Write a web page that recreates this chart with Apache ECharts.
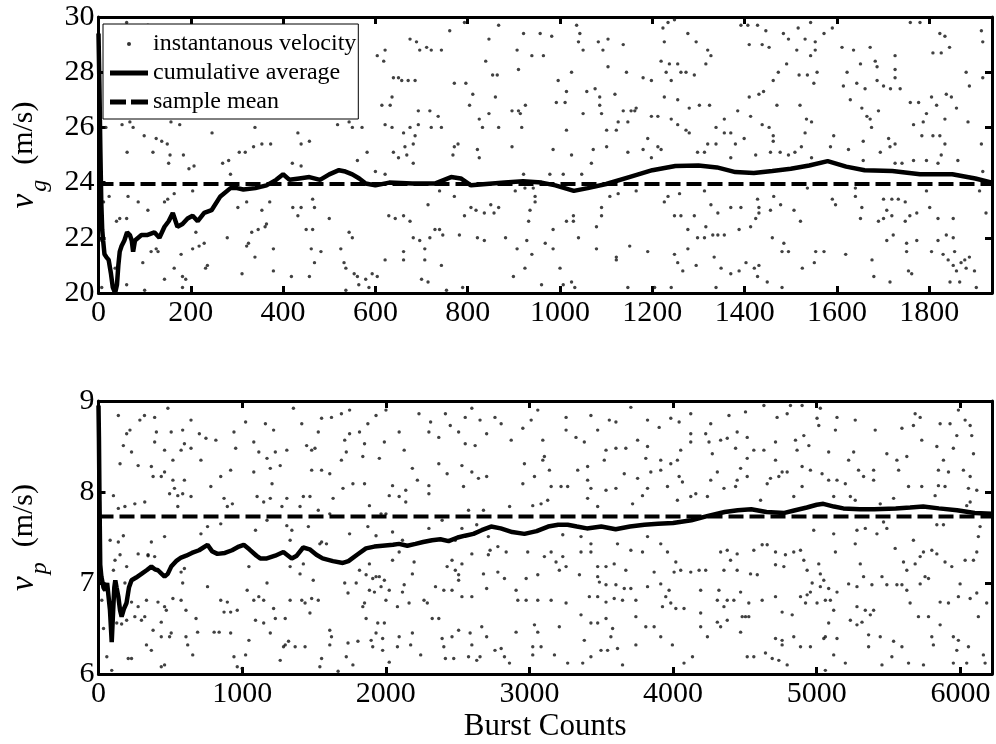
<!DOCTYPE html>
<html><head><meta charset="utf-8">
<script src="https://cdn.jsdelivr.net/npm/echarts@6/dist/echarts.min.js"></script>
<style>html,body{margin:0;padding:0;background:#fff}#c{width:996px;height:744px}</style>
</head><body><div id="c"></div><script>
// ---------- data ----------
const topXMax = 1936, topYMin = 20, topYMax = 30;
const bottomXMax = 6220, bottomYMin = 6, bottomYMax = 9;
const topMean = 23.95;
const bottomMean = 7.73;
const seriesNames = ['instantanous velocity', 'cumulative average', 'sample mean'];

const topCumulative = [[0,29.4],[2,27.5],[4,25.2],[6,23.3],[8,22.3],[10,21.9],[13,21.4],[17,21.3],[22,21.2],[27,20.7],[31,20.2],[36,20.0],[40,20.3],[43,21.0],[46,21.5],[50,21.7],[56,21.9],[62,22.2],[68,22.1],[72,21.9],[75,21.5],[79,21.9],[86,22.0],[93,22.1],[105,22.1],[121,22.2],[132,22.0],[143,22.4],[152,22.6],[161,22.9],[171,22.4],[182,22.5],[193,22.7],[204,22.8],[215,22.6],[229,22.9],[245,23.0],[264,23.5],[286,23.8],[300,23.8],[314,23.75],[340,23.8],[364,23.9],[385,24.1],[400,24.3],[414,24.1],[435,24.15],[457,24.2],[480,24.1],[500,24.3],[521,24.45],[535,24.4],[550,24.3],[565,24.15],[579,23.97],[600,23.9],[630,24.0],[680,23.97],[730,23.97],[764,24.2],[785,24.15],[807,23.9],[840,23.95],[880,24.0],[920,24.05],[960,24.0],[990,23.9],[1010,23.8],[1030,23.7],[1060,23.8],[1100,23.95],[1150,24.2],[1200,24.45],[1250,24.6],[1300,24.62],[1340,24.55],[1380,24.38],[1420,24.35],[1460,24.42],[1500,24.5],[1540,24.62],[1580,24.78],[1620,24.58],[1660,24.45],[1720,24.42],[1780,24.3],[1850,24.3],[1900,24.15],[1936,24.0]];

const bottomCumulative = [[0,8.95],[3,8.6],[7,7.9],[12,7.2],[20,7.07],[35,6.95],[46,6.92],[60,7.0],[69,7.0],[80,6.7],[92,6.35],[102,6.7],[110,6.95],[117,7.03],[126,6.95],[138,6.85],[150,6.7],[161,6.63],[178,6.72],[195,6.78],[212,6.95],[230,7.03],[262,7.06],[299,7.1],[335,7.14],[368,7.18],[392,7.15],[414,7.14],[440,7.1],[460,7.07],[482,7.1],[506,7.18],[540,7.24],[575,7.28],[610,7.3],[650,7.33],[700,7.36],[759,7.42],[790,7.35],[828,7.32],[880,7.33],[930,7.36],[977,7.4],[1011,7.42],[1050,7.37],[1100,7.3],[1126,7.27],[1172,7.27],[1230,7.3],[1287,7.34],[1345,7.27],[1380,7.3],[1425,7.39],[1470,7.37],[1517,7.31],[1560,7.27],[1632,7.24],[1701,7.22],[1740,7.24],[1800,7.31],[1862,7.38],[1920,7.4],[1977,7.41],[2050,7.42],[2092,7.43],[2150,7.41],[2207,7.43],[2260,7.45],[2322,7.47],[2380,7.48],[2437,7.46],[2500,7.5],[2552,7.52],[2610,7.54],[2667,7.58],[2733,7.62],[2800,7.6],[2880,7.56],[2965,7.54],[3050,7.57],[3130,7.62],[3200,7.64],[3266,7.64],[3330,7.62],[3400,7.6],[3500,7.62],[3600,7.59],[3700,7.62],[3800,7.64],[3895,7.65],[4000,7.66],[4127,7.69],[4250,7.74],[4359,7.78],[4450,7.8],[4544,7.81],[4650,7.78],[4775,7.77],[4850,7.8],[4931,7.83],[5000,7.86],[5046,7.87],[5120,7.84],[5185,7.82],[5300,7.81],[5400,7.81],[5550,7.82],[5650,7.83],[5741,7.84],[5850,7.82],[5977,7.8],[6100,7.77],[6220,7.76]];

const topVelocity = [[61,29.8],[107,29.7],[75,26.0],[51,26.1],[68,26.2],[16,26.0],[99,25.7],[125,25.6],[137,25.5],[149,25.4],[118,25.1],[62,25.1],[155,25.0],[184,25.0],[152,24.7],[196,24.5],[207,24.6],[246,25.8],[157,26.2],[176,26.1],[339,26.0],[432,25.8],[439,25.4],[457,25.5],[336,25.3],[305,25.1],[318,25.1],[354,25.4],[373,25.4],[269,24.7],[282,24.8],[286,24.3],[420,24.7],[439,24.6],[518,26.1],[543,26.2],[550,26.0],[571,26.0],[561,24.8],[582,25.1],[600,24.4],[621,24.3],[604,28.6],[621,28.8],[618,28.4],[639,27.8],[650,27.8],[657,27.7],[671,27.7],[686,27.7],[636,27.1],[632,26.8],[614,26.8],[621,26.1],[636,26.0],[661,25.8],[675,26.0],[686,25.7],[682,25.4],[664,25.3],[639,25.1],[668,25.0],[650,24.9],[682,24.7],[693,26.6],[693,26.1],[718,26.6],[721,26.0],[736,26.4],[743,26.0],[771,25.3],[779,25.4],[768,25.0],[675,29.2],[689,29.1],[696,28.8],[711,28.9],[721,28.8],[743,28.8],[761,29.5],[793,29.8],[846,29.2],[839,28.4],[854,27.9],[811,27.2],[796,27.6],[771,27.6],[804,26.8],[825,26.3],[832,26.0],[846,26.5],[821,25.2],[825,24.9],
[11,23.3],[23,23.5],[39,22.6],[46,22.7],[61,22.7],[107,23.0],[64,23.5],[86,23.3],[143,23.3],[150,23.4],[164,23.6],[204,23.7],[7,21.9],[114,21.5],[129,21.5],[96,21.1],[125,21.6],[218,21.7],[229,21.8],[236,21.0],[211,22.2],[204,21.6],[179,21.4],[143,20.5],[164,20.9],[182,20.6],[189,20.5],[182,20.2],[61,20.3],[100,20.1],[36,20.9],[7,20.2],[232,20.9],[279,22.0],[302,23.1],[321,23.3],[354,23.0],[371,23.3],[364,22.5],[361,22.4],[346,22.3],[332,22.2],[321,21.7],[325,21.8],[339,21.3],[311,20.7],[379,21.6],[379,20.8],[421,23.1],[439,23.1],[464,23.4],[468,23.1],[432,22.8],[450,22.3],[464,22.3],[461,21.6],[468,21.1],[482,21.5],[457,20.6],[418,20.6],[500,22.7],[525,21.6],[532,21.1],[536,20.9],[543,22.2],[550,22.0],[554,20.7],[561,20.6],[564,20.3],[579,20.5],[586,20.2],[593,20.7],[604,20.6],[536,20.1],[621,21.2],[629,22.8],[643,22.7],[661,22.8],[661,21.5],[661,21.2],[675,22.6],[682,22.0],[696,21.9],[700,20.5],[714,20.4],[707,21.6],[707,21.2],[714,23.2],[729,22.3],[718,22.0],[739,22.3],[746,22.1],[743,21.0],[782,22.1],[793,22.8],[807,23.1],[818,23.0],[836,22.9],[850,23.2],[821,22.0],[836,21.9],[739,23.7],[771,23.5],[754,20.1],[789,20.2],
[867,29.7],[921,29.4],[957,29.4],[982,29.3],[1036,29.7],[1043,29.4],[907,28.8],[939,28.6],[964,28.6],[910,28.1],[1040,29.1],[1050,28.8],[1083,29.1],[1093,28.8],[1104,29.2],[1137,29.0],[1104,28.2],[1144,28.0],[1180,27.8],[1198,27.7],[1223,29.6],[1234,29.8],[1248,29.9],[1226,29.1],[1219,28.4],[1237,28.3],[1255,28.3],[1230,28.0],[1241,27.7],[1262,28.0],[1273,28.0],[1291,27.9],[1277,29.4],[1295,29.1],[1320,28.8],[1327,28.6],[1316,28.3],[1392,29.7],[1407,29.7],[1428,29.7],[1446,29.5],[1410,29.0],[1438,29.0],[1453,28.9],[1484,29.4],[1495,29.2],[1516,29.6],[1531,29.2],[1543,29.8],[1553,29.1],[1572,29.4],[1590,29.6],[1513,28.8],[1543,28.6],[1553,28.8],[1491,28.3],[1473,28.0],[1462,27.7],[1518,27.9],[1536,27.9],[1557,28.0],[1550,27.6],[1611,28.9],[1636,28.8],[1672,28.9],[1651,28.3],[1683,28.4],[1687,28.2],[1726,28.6],[1726,28.1],[1622,28.0],[1614,27.5],[1643,27.6],[1661,27.4],[1687,27.7],[1701,27.5],[1716,27.4],[1737,27.4],[1726,27.8],[1759,29.8],[1780,29.8],[1823,29.4],[1834,29.3],[1808,28.7],[1826,28.7],[1844,28.9],[1880,28.0],[1887,27.5],[1913,29.5],[1916,29.1],[1916,27.8],[1759,26.9],[1777,26.9],[1794,26.5],[1805,27.1],[1816,26.8],[1837,27.2],[1848,27.1],[1859,26.7],[1834,26.3],[1884,26.2],[1766,26.1],[1787,26.2],[1784,25.7],[1808,25.7],[1823,25.7],[1834,25.4],[1826,25.0],[1794,24.8],[1819,24.7],[1862,24.8],[1766,24.8],[1913,25.4],[1916,24.4],[1654,26.7],[1665,26.4],[1690,26.6],[1672,26.3],[1675,26.0],[1629,27.0],[1657,25.5],[1694,25.1],[1712,25.6],[1715,25.3],[1726,25.4],[1741,24.7],[1726,24.7],[1657,24.8],[1625,25.2],[1593,25.7],[1586,25.3],[1520,26.8],[1534,26.3],[1545,26.2],[1531,25.8],[1470,26.8],[1453,26.0],[1462,25.7],[1462,25.5],[1438,26.1],[1413,26.4],[1410,27.1],[1431,27.2],[1441,27.3],[1399,25.6],[1424,25.0],[1456,25.1],[1477,25.1],[1495,25.0],[1509,25.1],[1523,25.3],[1545,24.9],[1385,26.6],[1356,26.3],[1356,25.8],[1370,25.8],[1380,25.4],[1338,26.0],[1338,25.4],[1320,25.4],[1298,25.1],[1313,25.1],[1370,24.9],[1324,26.8],[1302,26.8],[1280,26.7],[1273,25.9],[1280,25.8],[1255,26.1],[1241,26.3],[1212,26.4],[1198,26.4],[1226,27.1],[1255,27.0],[1190,25.6],[1180,25.2],[1212,25.3],[1219,25.2],[1198,24.9],[1147,25.1],[1147,26.2],[1137,26.6],[1126,26.2],[1122,25.9],[1154,26.6],[1162,26.6],[1165,26.7],[1119,27.2],[1101,25.9],[1101,25.3],[1086,27.1],[1086,26.8],[1090,26.5],[1058,27.3],[1076,27.4],[1050,26.5],[1072,25.2],[1068,24.7],[1047,24.3],[1025,25.0],[1014,25.9],[1011,26.9],[1014,27.3],[1025,28.0],[996,27.7],[992,26.9],[985,25.2],[1007,24.3],[978,24.3],[917,26.0],[910,26.6],[896,26.6],[925,26.8],[914,26.5],[896,25.3],[867,26.0],[860,27.1],[864,27.9],[921,24.3],
[903,23.7],[924,23.8],[942,23.8],[946,23.5],[946,23.3],[935,23.0],[932,22.6],[867,23.1],[857,22.9],[882,22.0],[907,21.6],[928,21.9],[939,21.4],[924,20.9],[899,20.6],[960,20.3],[968,21.8],[985,21.6],[985,22.3],[1014,22.6],[1029,22.8],[1029,22.6],[1040,22.0],[1025,20.4],[1000,20.9],[1007,20.3],[1032,20.2],[1079,21.6],[1079,22.4],[1090,22.8],[1090,23.1],[1108,23.5],[1126,23.6],[1122,21.3],[1122,21.2],[1151,21.7],[1147,20.2],[1165,23.7],[1190,21.5],[1205,20.2],[1226,23.3],[1234,23.5],[1241,20.2],[1248,22.8],[1248,21.4],[1259,23.6],[1262,22.8],[1277,22.3],[1277,21.6],[1266,20.8],[1255,21.1],[1291,22.8],[1298,22.0],[1295,21.0],[1313,23.7],[1316,22.4],[1313,22.0],[1327,23.2],[1331,22.1],[1342,22.9],[1342,22.1],[1356,22.1],[1334,21.3],[1349,20.9],[1338,20.2],[1370,20.7],[1388,20.8],[1370,23.1],[1392,23.1],[1388,22.3],[1413,22.4],[1424,22.7],[1431,22.9],[1431,23.1],[1428,23.4],[1456,23.0],[1463,23.5],[1478,23.2],[1403,21.1],[1421,20.9],[1431,21.0],[1428,20.6],[1449,20.4],[1481,20.2],[1460,22.0],[1485,21.8],[1495,21.5],[1481,21.5],[1507,23.0],[1521,22.6],[1525,20.9],[1536,23.8],[1554,21.5],[1572,21.5],[1551,21.1],[1590,23.4],[1597,23.2],[1619,21.4],[1640,23.8],[1640,23.5],[1651,22.7],[1654,23.1],[1676,21.2],[1680,20.6],[1690,22.6],[1701,22.7],[1708,23.0],[1719,22.8],[1701,23.4],[1719,23.4],[1733,23.4],[1748,23.3],[1708,21.9],[1715,20.4],[1722,22.1],[1748,22.6],[1758,22.8],[1773,22.9],[1801,23.1],[1794,23.7],[1751,21.8],[1751,21.5],[1773,21.9],[1755,20.8],[1762,20.7],[1805,21.5],[1819,22.7],[1819,21.9],[1830,21.4],[1837,22.1],[1852,22.0],[1841,21.2],[1855,21.5],[1852,21.0],[1859,20.8],[1869,21.1],[1877,21.2],[1887,21.3],[1880,20.9],[1898,20.8],[1845,20.4],[1866,20.4],[1902,20.2],[1852,22.7],[1909,23.7],[1923,22.9]];

const bottomVelocity = [[138,8.84],[219,8.68],[196,8.64],[173,8.51],[230,8.44],[288,8.79],[320,8.84],[391,8.82],[403,8.66],[391,8.55],[483,8.92],[506,8.66],[586,8.68],[598,8.53],[644,8.79],[644,8.48],[702,8.64],[748,8.59],[817,8.57],[460,8.46],[518,8.35],[575,8.46],[150,8.31],[276,8.29],[368,8.28],[460,8.22],[518,8.13],[437,8.17],[380,8.17],[598,8.13],[713,8.35],[851,8.17],[920,8.24],[782,8.06],[529,8.04],[495,7.98],[552,7.96],[586,7.98],[644,7.95],[552,7.84],[322,7.89],[253,7.87],[104,7.96],[138,7.82],[184,7.84],[874,7.93],[897,7.84],[932,7.87],[851,7.65],[460,7.51],[368,7.45],[173,7.52],[138,7.45],[81,7.47],[276,7.32],[345,7.3],[713,7.54],[759,7.62],
[943,8.66],[955,8.48],[1024,8.77],[1081,8.55],[1116,8.44],[1162,8.75],[1173,8.37],[1196,8.26],[1219,8.68],[1231,8.44],[1311,8.46],[1357,8.92],[1415,8.75],[1449,8.51],[1484,8.46],[1507,8.48],[1530,8.66],[1553,8.81],[1622,8.82],[1691,8.86],[1748,8.9],[1714,8.57],[1748,8.64],[1817,8.66],[1852,8.53],[1875,8.75],[1932,8.84],[2001,8.9],[1990,8.55],[1955,8.37],[2093,8.66],[2128,8.46],[2185,8.26],[2220,8.13],[2231,8.86],[2312,8.77],[2300,8.66],[2369,8.6],[2415,8.86],[2449,8.73],[2507,8.66],[2553,8.82],[2599,8.92],[2656,8.79],[2702,8.64],[2760,8.82],[2553,8.53],[2622,8.51],[2530,8.29],[2599,8.22],[2645,8.15],[2702,8.17],[2541,8.06],[2427,8.2],[2369,8.31],[2300,8.07],[2300,7.98],[2139,8.02],[2047,8.07],[2024,7.96],[2093,7.95],[2139,7.89],[2001,7.76],[1967,7.76],[1932,7.52],[1886,7.85],[1852,8.09],[1771,8.09],[1702,8.04],[1633,7.93],[1610,7.76],[1530,7.8],[1472,7.95],[1426,7.95],[1403,7.84],[1311,7.93],[1277,7.84],[1196,7.93],[1208,8.09],[1150,7.89],[1553,8.24],[1484,8.24],[1610,8.2],[1691,8.35],[1725,8.44],[1840,8.39],[1265,8.29],[1081,8.22],[1104,7.95],[1173,7.69],[1093,7.58],[1311,7.63],[1346,7.58],[1334,7.47],[1461,7.62],[1541,7.43],[1587,7.43],[1748,7.54],[1875,7.62],[2047,7.56],[2116,7.47],[2300,7.6],[2392,7.69],[2484,7.47],[2530,7.6],[2576,7.8],[2633,7.64],[2714,7.51],[2726,7.36],[2599,7.32],[2680,7.8],
[23,6.81],[35,6.5],[58,6.19],[92,6.04],[104,7.14],[115,7.25],[150,7.31],[196,7.18],[184,7.0],[127,6.56],[161,6.55],[196,6.59],[207,6.17],[230,6.17],[230,6.79],[276,6.74],[253,6.63],[322,6.63],[299,6.59],[334,6.81],[345,7.31],[391,7.29],[334,6.32],[368,6.26],[437,6.08],[460,6.1],[437,6.57],[414,6.79],[380,6.48],[437,6.41],[460,6.74],[472,6.7],[506,6.45],[495,6.41],[518,6.83],[575,6.81],[609,6.7],[609,6.41],[656,6.21],[679,6.61],[586,7.0],[575,7.12],[598,7.16],[690,6.46],[621,6.32],[759,6.96],[805,6.46],[840,6.46],[851,6.81],[897,6.79],[874,6.68],[920,6.68],[966,6.7],[920,6.45],[943,6.19],[966,6.08],[1000,6.06],[1024,6.21],[1047,6.37],[1035,6.92],[1093,6.59],[1081,6.81],[1150,6.81],[1116,6.85],[1173,7.0],[1047,7.18],[1150,6.56],[1196,6.45],[1219,6.72],[1231,6.61],[1300,6.61],[1300,6.32],[1323,6.36],[1288,6.3],[1265,6.15],[1369,6.3],[1438,6.3],[1334,6.81],[1415,6.81],[1438,6.78],[1484,6.83],[1530,6.81],[1472,6.67],[1495,7.03],[1403,7.1],[1426,7.21],[1334,7.18],[1553,7.45],[1610,6.48],[1622,6.41],[1610,6.32],[1553,6.17],[1541,6.08],[1668,6.03],[1725,6.19],[1771,6.1],[1737,6.34],[1806,6.36],[1714,7.0],[1737,6.89],[1794,7.0],[1852,6.78],[1840,6.74],[1863,6.61],[1817,7.14],[1863,7.09],[1886,7.21],[1909,7.05],[1932,7.07],[1955,7.07],[1886,6.92],[1921,6.9],[1967,6.96],[1990,7.03],[2024,6.92],[2001,6.81],[1944,6.56],[1932,6.45],[1898,6.37],[1909,6.3],[1990,6.56],[1978,6.39],[1978,6.26],[2024,6.13],[2081,6.3],[2093,6.41],[2081,6.74],[2128,6.98],[2116,6.9],[2162,6.78],[2185,7.1],[2197,7.23],[2047,7.25],[2093,7.34],[2173,6.32],[2185,6.45],[2243,6.21],[2266,6.81],[2289,6.78],[2323,6.61],[2369,6.61],[2346,6.96],[2404,6.92],[2461,6.92],[2507,7.03],[2427,7.18],[2461,7.25],[2484,7.14],[2530,7.21],[2507,7.09],[2392,6.39],[2404,6.3],[2415,6.17],[2461,6.41],[2473,6.17],[2507,6.48],[2530,6.85],[2599,6.85],[2587,6.45],[2599,6.32],[2576,6.19],[2656,6.19],[2633,6.15],[2668,6.52],[2702,6.41],[2702,6.94],[2714,7.31],[2760,6.26],[2680,7.1],
[2803,8.75],[2873,8.57],[2954,8.7],[3012,8.79],[3058,8.9],[3093,8.57],[3104,8.39],[3139,8.24],[2965,8.31],[2954,8.09],[3035,8.17],[3093,8.35],[3255,8.82],[3255,8.68],[3324,8.6],[3382,8.55],[3336,8.24],[3405,8.28],[3428,8.84],[3475,8.68],[3556,8.79],[3602,8.77],[3533,8.46],[3602,8.48],[3671,8.48],[3660,8.2],[3521,8.35],[3405,8.13],[3428,8.04],[3266,8.06],[3220,8.06],[3151,8.06],[3081,7.87],[3127,7.91],[3023,7.85],[2862,7.84],[3405,7.93],[3475,7.84],[3533,8.02],[3602,8.04],[3718,7.87],[3787,7.96],[3822,8.04],[3753,8.15],[3845,8.22],[3914,8.24],[3810,8.37],[3914,8.35],[3984,8.31],[4030,8.35],[3903,8.71],[3984,8.81],[4042,8.77],[4123,8.86],[3706,8.93],[3822,8.79],[3753,8.57],[3822,8.5],[4053,8.46],[4123,8.55],[4123,8.64],[3961,8.06],[4042,8.17],[4065,8.11],[4123,7.95],[4158,7.98],[4030,7.91],[4227,8.64],[4250,8.55],[4273,8.42],[4331,8.57],[4377,8.59],[4262,8.75],[4389,8.84],[4446,8.66],[4504,8.88],[4516,8.6],[4435,8.48],[4516,8.37],[4562,8.46],[4470,8.26],[4516,8.17],[4446,8.13],[4435,8.06],[4308,8.22],[4262,8.13],[4354,8.04],[4239,7.95],[4609,7.91],[4655,8.09],[4678,8.15],[4736,8.17],[4759,8.22],[4713,8.35],[4632,8.46],[4713,8.55],[4724,8.82],[4632,8.95],[4794,8.86],[4817,8.95],[4898,8.95],[5025,8.92],[5141,8.82],[5002,8.81],[5014,8.73],[5130,8.68],[4794,8.22],[4852,8.57],[4910,8.62],[4945,8.51],[4863,8.46],[4898,8.28],[4956,8.24],[5037,8.2],[5083,8.13],[5141,8.13],[5199,8.09],[5083,8.44],[5222,8.35],[5257,8.44],[5291,8.24],[5326,8.17],[5396,8.24],[5396,8.13],[5268,8.79],[5407,8.68],[5488,8.42],[5558,8.35],[5627,8.39],[5593,8.7],[5685,8.86],[5720,8.82],[5673,8.73],[5731,8.57],[5836,8.5],[5859,8.75],[5928,8.75],[5986,8.9],[6033,8.79],[6068,8.73],[5975,8.62],[6079,8.62],[6091,8.42],[5951,8.48],[5882,8.35],[5847,8.24],[5917,8.22],[6021,8.24],[6068,8.17],[5731,8.06],[5847,8.07],[5893,8.06],[6056,8.04],[6114,8.02],[5824,7.96],[5535,7.93],[5570,8.24],[5639,8.06],[5442,7.87],[5268,7.91],[5234,7.95],[5118,7.95],[4840,7.95],[4898,8.06],[6068,7.89],[6044,7.85],
[2780,7.4],[2838,7.34],[2988,7.34],[3058,7.09],[3104,7.29],[3151,7.34],[3185,7.23],[3208,7.14],[3232,7.29],[3255,7.18],[3232,7.53],[2977,7.05],[2907,6.92],[2826,7.05],[2780,7.12],[2919,6.81],[2977,6.81],[3058,6.81],[3151,6.81],[3255,6.78],[3208,6.52],[3035,6.54],[3058,6.46],[2907,6.46],[2803,6.28],[2826,6.19],[2861,6.12],[3023,6.3],[3081,6.3],[3023,6.21],[3174,6.21],[3266,6.12],[3359,7.51],[3428,7.43],[3359,7.34],[3428,7.34],[3348,7.09],[3475,7.18],[3475,7.07],[3533,7.18],[3590,7.21],[3487,7.01],[3533,6.98],[3602,6.98],[3417,6.85],[3475,6.85],[3533,6.79],[3590,6.83],[3648,6.81],[3660,6.94],[3671,7.14],[3706,6.94],[3741,6.81],[3822,6.96],[3787,7.34],[3706,7.36],[3613,7.43],[3822,7.51],[3914,7.43],[3961,7.34],[4019,7.23],[4053,7.14],[4123,7.12],[4181,7.14],[4227,7.14],[4007,7.12],[3868,7.12],[3914,6.99],[3972,6.92],[3949,6.85],[3984,6.78],[3926,6.74],[4019,6.72],[4076,6.72],[3359,6.65],[3428,6.56],[3475,6.56],[3533,6.61],[3579,6.5],[3567,6.41],[3613,6.28],[3544,6.26],[3498,6.26],[3382,6.37],[3428,6.19],[3371,6.12],[3648,6.1],[3741,6.63],[3741,6.32],[3810,6.52],[3868,6.52],[3914,6.41],[3995,6.32],[4076,6.12],[4135,6.19],[4192,6.52],[4192,6.67],[4239,6.41],[4192,6.92],[4308,6.81],[4319,6.92],[4331,7.34],[4377,7.36],[4400,7.25],[4354,7.14],[4446,7.14],[4446,7.32],[4562,7.36],[4620,7.42],[4655,7.42],[4713,7.34],[4539,7.1],[4586,7.09],[4377,6.81],[4423,6.81],[4354,6.74],[4470,6.9],[4481,6.63],[4504,6.63],[4527,6.63],[4527,6.78],[4620,6.81],[4713,6.85],[4308,6.57],[4331,6.52],[4377,6.59],[4470,6.46],[4516,6.19],[4562,6.19],[4643,6.23],[4690,6.17],[4736,6.15],[4794,6.1],[4713,6.39],[4759,6.37],[4759,6.32],[4840,6.41],[4887,6.3],[4956,6.3],[5049,6.39],[5118,6.21],[5060,6.04],[5199,6.12],[4759,6.68],[4829,6.65],[4713,7.2],[4782,7.31],[4840,7.34],[4771,7.18],[4887,7.36],[4910,7.25],[4933,7.14],[5014,7.21],[5025,7.1],[5049,7.03],[4968,7.0],[5025,6.96],[5083,6.94],[5095,6.81],[5141,6.9],[4887,6.85],[4933,6.87],[4956,6.9],[4922,6.78],[5002,6.78],[5060,6.81],[5118,6.7],[5083,6.56],[5060,6.41],[5141,6.39],[5234,6.59],[5280,6.74],[5338,6.7],[5396,6.7],[5280,6.54],[5315,6.57],[5373,6.65],[5361,6.43],[5361,6.3],[5442,6.41],[5523,6.19],[5535,6.36],[5593,6.3],[5454,6.1],[5639,6.12],[5222,6.99],[5280,6.96],[5326,7.07],[5384,6.98],[5454,7.07],[5488,6.98],[5558,6.98],[5593,6.98],[5627,6.92],[5627,7.14],[5685,7.21],[5720,7.29],[5743,7.34],[5754,7.07],[5778,7.05],[5720,6.99],[5801,7.36],[5836,7.32],[5893,7.23],[5940,7.18],[5998,6.99],[6033,7.25],[6091,7.25],[6114,7.34],[6125,7.51],[6137,7.62],[5546,7.38],[5604,7.23],[5303,7.21],[5130,7.34],[5268,7.43],[5419,7.54],[5338,7.6],[5488,7.6],[5673,7.47],[5465,7.67],[5280,7.58],[5118,7.54],[4979,7.58],[5836,7.64],[5882,7.64],[5650,6.78],[5708,6.63],[5778,6.63],[5859,6.79],[5917,6.78],[5986,6.85],[6068,6.83],[6114,6.89],[6125,6.63],[5859,6.54],[5951,6.41],[5986,6.37],[5975,6.26],[6056,6.3],[5801,6.41],[5812,6.32],[5743,6.1],[5951,6.12],[6044,6.12],[6160,6.21],[6172,6.12],[6183,6.78]];

// ---------- chart ----------
const FONT = '"Liberation Serif","DejaVu Serif",serif';
const chart = echarts.init(document.getElementById('c'), null, {renderer: 'canvas'});

function xAxisDef(grid, max, interval, pos, labels) {
  return {
    type: 'value', gridIndex: grid, min: 0, max: max, interval: interval, position: pos,
    axisLine: {show: true, onZero: false, lineStyle: {color: '#000', width: 3}},
    axisTick: {show: true, inside: true, length: 7, lineStyle: {color: '#000', width: 3}},
    axisLabel: {show: labels, showMaxLabel: false, color: '#000', fontFamily: FONT, fontSize: 30, margin: 5,
                formatter: v => String(v)},
    splitLine: {show: false}
  };
}
function yAxisDef(grid, min, max, interval, pos, labels, sub) {
  const a = {
    type: 'value', gridIndex: grid, min: min, max: max, interval: interval, position: pos,
    axisLine: {show: true, onZero: false, lineStyle: {color: '#000', width: 3}},
    axisTick: {show: true, inside: true, length: 7, lineStyle: {color: '#000', width: 3}},
    axisLabel: {show: labels, color: '#000', fontFamily: FONT, fontSize: 30, margin: 4,
                formatter: v => String(v)},
    splitLine: {show: false}
  };
  if (sub) {
    a.name = '{v|v}{s|' + sub + '}{u|  (m/s)}';
    a.nameLocation = 'middle';
    a.nameRotate = 90;
    a.nameGap = 47;
    a.nameTextStyle = {
      color: '#000', fontFamily: FONT,
      rich: {
        v: {fontFamily: FONT, fontStyle: 'italic', fontSize: 33, color: '#000'},
        s: {fontFamily: FONT, fontStyle: 'italic', fontSize: 24, color: '#000', padding: [30, 0, 0, 2]},
        u: {fontFamily: FONT, fontSize: 30, color: '#000'}
      }
    };
  }
  return a;
}

const ICON_DOT = 'path://M0 0L0 0M38 14L38 14M17 7A2 2 0 1 0 21 7A2 2 0 1 0 17 7Z';
const ICON_SOLID = 'path://M0 0L0 0M38 14L38 14M0 4.5L38 4.5L38 9.5L0 9.5Z';
const ICON_DASH = 'path://M0 0L0 0M38 14L38 14M0 4.5L16 4.5L16 9.5L0 9.5ZM21 4.5L38 4.5L38 9.5L21 9.5Z';

const option = {
  backgroundColor: '#fff',
  animation: false,
  grid: [
    {left: 97, right: 4, top: 17, height: 276},
    {left: 97, right: 4, top: 401, height: 273}
  ],
  xAxis: [
    xAxisDef(0, topXMax, 200, 'bottom', true),
    xAxisDef(0, topXMax, 200, 'top', false),
    Object.assign(xAxisDef(1, bottomXMax, 1000, 'bottom', true), {
      name: 'Burst Counts', nameLocation: 'middle', nameGap: 37,
      nameTextStyle: {color: '#000', fontFamily: FONT, fontSize: 31}
    }),
    xAxisDef(1, bottomXMax, 1000, 'top', false)
  ],
  yAxis: [
    yAxisDef(0, topYMin, topYMax, 2, 'left', true, 'g'),
    yAxisDef(0, topYMin, topYMax, 2, 'right', false),
    yAxisDef(1, bottomYMin, bottomYMax, 1, 'left', true, 'p'),
    yAxisDef(1, bottomYMin, bottomYMax, 1, 'right', false)
  ],
  legend: {
    left: 103, top: 24, orient: 'vertical',
    itemWidth: 38, itemHeight: 14, itemGap: 5,
    backgroundColor: '#fff', borderColor: '#000', borderWidth: 1, borderRadius: 0,
    padding: [8, 2, 5, 7], selectedMode: false, z: 20,
    textStyle: {color: '#000', fontFamily: FONT, fontSize: 24, lineHeight: 24},
    data: [
      {name: seriesNames[0], icon: ICON_DOT, itemStyle: {color: '#000', borderWidth: 0}},
      {name: seriesNames[1], icon: ICON_SOLID, itemStyle: {color: '#000', borderWidth: 0}},
      {name: seriesNames[2], icon: ICON_DASH, itemStyle: {color: '#000', borderWidth: 0}}
    ]
  },
  series: [
    {name: seriesNames[0], type: 'scatter', xAxisIndex: 0, yAxisIndex: 0, data: topVelocity,
     symbol: 'circle', symbolSize: 3.4, itemStyle: {color: '#111'}, z: 2},
    {name: seriesNames[2], type: 'line', xAxisIndex: 0, yAxisIndex: 0,
     data: [[0, topMean], [topXMax, topMean]], symbol: 'none', itemStyle: {color: '#000'},
     lineStyle: {color: '#000', width: 4, type: [15, 6]}, z: 3},
    {name: seriesNames[1], type: 'line', xAxisIndex: 0, yAxisIndex: 0, data: topCumulative,
     symbol: 'none', itemStyle: {color: '#000'}, lineStyle: {color: '#000', width: 4.5}, z: 4},
    {name: seriesNames[0], type: 'scatter', xAxisIndex: 2, yAxisIndex: 2, data: bottomVelocity,
     symbol: 'circle', symbolSize: 3.4, itemStyle: {color: '#111'}, z: 2},
    {name: seriesNames[2], type: 'line', xAxisIndex: 2, yAxisIndex: 2,
     data: [[0, bottomMean], [bottomXMax, bottomMean]], symbol: 'none', itemStyle: {color: '#000'},
     lineStyle: {color: '#000', width: 4, type: [15, 6]}, z: 3},
    {name: seriesNames[1], type: 'line', xAxisIndex: 2, yAxisIndex: 2, data: bottomCumulative,
     symbol: 'none', itemStyle: {color: '#000'}, lineStyle: {color: '#000', width: 4.5}, z: 4}
  ]
};
chart.setOption(option);
</script></body></html>
